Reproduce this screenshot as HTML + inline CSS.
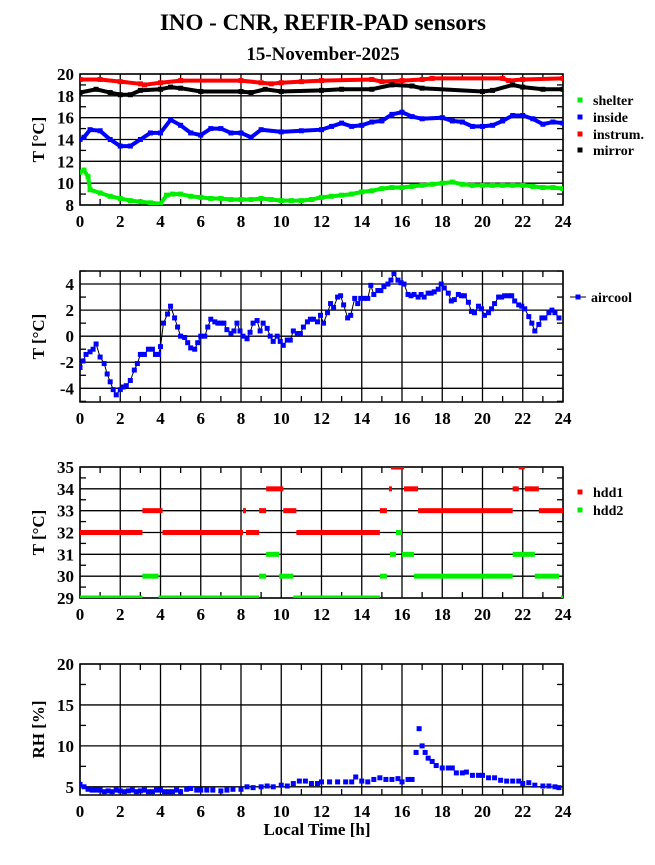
<!DOCTYPE html>
<html><head><meta charset="utf-8"><style>
body{margin:0;background:#fff;}
svg text{font-family:"Liberation Serif",serif;font-weight:bold;fill:#000;}
</style></head><body>
<svg id="c" width="655" height="860" xmlns="http://www.w3.org/2000/svg">
<text x="323" y="30" font-size="23" text-anchor="middle">INO - CNR, REFIR-PAD sensors</text>
<text x="323" y="60" font-size="19" text-anchor="middle">15-November-2025</text>
<text x="317" y="835" font-size="17" text-anchor="middle">Local Time [h]</text>
</svg>
<script>
// ---- data ----
const shelterT=[0,0.2,0.4,0.5,1,1.5,2,2.5,3,3.5,4,4.3,4.6,5,5.5,6,6.5,7,7.5,8,8.5,9,9.5,10,10.5,11,11.5,12,12.5,13,13.5,14,14.5,15,15.5,16,16.5,17,17.5,18,18.5,19,19.5,20,20.5,21,21.5,22,22.5,23,23.5,24];
const shelterV=[11,11.2,10.6,9.4,9.1,8.8,8.6,8.4,8.3,8.2,8.1,8.9,9.0,9.0,8.8,8.7,8.6,8.6,8.5,8.5,8.5,8.6,8.5,8.4,8.4,8.4,8.5,8.7,8.8,8.9,9.0,9.2,9.3,9.5,9.6,9.6,9.7,9.8,9.9,10.0,10.1,9.9,9.8,9.8,9.8,9.8,9.8,9.8,9.7,9.6,9.6,9.5];
const insideT=[0,0.2,0.5,1,1.5,2,2.5,3,3.5,4,4.5,5,5.5,6,6.5,7,7.5,8,8.5,9,10,11,12,12.5,13,13.5,14,14.5,15,15.5,16,16.5,17,18,18.5,19,19.5,20,20.5,21,21.5,22,22.5,23,23.5,24];
const insideV=[14.0,14.2,14.9,14.8,14.0,13.4,13.4,14.0,14.6,14.6,15.8,15.3,14.6,14.4,15.0,15.0,14.6,14.6,14.2,14.9,14.7,14.8,14.9,15.2,15.5,15.2,15.3,15.6,15.7,16.3,16.5,16.1,15.9,16.0,15.7,15.6,15.2,15.2,15.3,15.7,16.2,16.2,15.9,15.4,15.6,15.5];
const instrumT=[0,1,2,3,3.2,4,5,8,9,9.5,10,11,12,14.5,15,16,17,17.5,21,21.3,22,24];
const instrumV=[19.5,19.5,19.3,19.1,19.0,19.2,19.4,19.4,19.2,19.1,19.2,19.3,19.4,19.5,19.3,19.4,19.5,19.6,19.6,19.4,19.5,19.6];
const mirrorT=[0,0.8,1.5,2,2.5,3,4,4.5,5,6,8,8.5,9.2,10,12,13,14.5,15.5,16.5,17,20,20.5,21.5,22,23,24];
const mirrorV=[18.3,18.6,18.3,18.1,18.1,18.5,18.6,18.8,18.7,18.4,18.4,18.3,18.6,18.4,18.5,18.6,18.6,19.0,18.9,18.7,18.4,18.5,19.0,18.8,18.6,18.6];

const airT=[0,0.15,0.3,0.5,0.65,0.8,1.0,1.2,1.35,1.5,1.65,1.8,2.0,2.15,2.3,2.5,2.7,2.85,3.0,3.2,3.4,3.6,3.75,3.9,4.0,4.15,4.35,4.5,4.7,4.85,5.0,5.2,5.35,5.5,5.7,5.85,6.0,6.2,6.35,6.5,6.7,6.85,7.0,7.15,7.3,7.5,7.65,7.8,7.95,8.1,8.3,8.45,8.6,8.8,8.95,9.1,9.3,9.45,9.6,9.8,9.95,10.1,10.3,10.45,10.6,10.8,10.95,11.1,11.3,11.45,11.6,11.8,11.95,12.1,12.3,12.45,12.6,12.8,12.95,13.1,13.3,13.45,13.65,13.8,13.95,14.1,14.3,14.45,14.6,14.8,14.95,15.1,15.3,15.45,15.6,15.8,15.95,16.1,16.3,16.45,16.6,16.8,16.95,17.1,17.3,17.45,17.6,17.8,17.95,18.1,18.3,18.45,18.6,18.8,18.95,19.1,19.3,19.45,19.6,19.8,19.95,20.1,20.3,20.45,20.6,20.8,20.95,21.1,21.3,21.45,21.6,21.8,21.95,22.1,22.3,22.45,22.6,22.8,22.95,23.1,23.3,23.45,23.6,23.8];
const airV=[-2.4,-1.9,-1.4,-1.2,-1.0,-0.6,-1.6,-2.1,-2.9,-3.5,-4.1,-4.5,-4.1,-3.9,-3.8,-3.4,-2.6,-2.1,-1.4,-1.4,-1.0,-1.0,-1.4,-1.4,-0.8,1.0,1.7,2.3,1.4,0.7,0.0,-0.1,-0.5,-0.9,-1.0,-0.5,0.0,0.0,0.7,1.3,1.1,1.0,1.0,1.0,0.5,0.2,0.4,1.0,0.4,0.0,-0.2,0.3,1.0,1.2,0.4,1.0,0.6,0.0,-0.4,0.0,-0.4,-0.7,-0.3,-0.3,0.4,0.2,0.2,0.7,1.1,1.3,1.3,1.1,1.6,1.0,1.8,2.5,2.2,3.0,3.1,2.4,1.4,1.6,2.9,2.5,2.9,2.9,2.9,3.9,3.2,3.5,3.5,3.8,4.0,4.3,4.8,4.3,4.1,4.0,3.2,3.1,3.2,3.0,3.2,3.0,3.3,3.3,3.4,3.6,4.0,3.7,3.3,2.7,2.8,3.2,3.1,3.1,2.6,1.9,1.8,2.3,2.1,1.6,1.8,2.1,2.5,3.0,3.0,3.1,3.1,3.1,2.7,2.4,2.3,2.1,1.5,1.0,0.4,0.9,1.4,1.4,1.8,2.0,1.8,1.4];

const hdd1Start=[0,3.1,4.1,8.1,8.25,8.9,9.25,10.1,10.75,14.9,15.35,15.45,16.1,16.8,21.5,21.8,22.1,22.8];
const hdd1End=[3.1,4.1,8.1,8.25,8.9,9.25,10.1,10.75,14.9,15.25,15.5,16.1,16.8,21.5,21.8,22.1,22.8,24];
const hdd1Val=[32,33,32,33,32,33,34,33,32,33,34,35,34,33,34,35,34,33];
const hdd2Start=[0,3.1,3.9,8.9,9.25,9.9,10.6,14.9,15.4,15.7,16.0,16.6,21.5,22.6,23.9];
const hdd2End=[3.1,3.9,8.9,9.25,9.9,10.6,14.9,15.25,15.7,16.0,16.6,21.5,22.6,23.8,24];
const hdd2Val=[29,30,29,30,31,30,29,30,31,32,31,30,31,30,29];

const rhT=[0,0.2,0.4,0.6,0.8,1,1.2,1.4,1.6,1.8,2,2.2,2.4,2.6,2.8,3,3.2,3.4,3.6,3.8,4,4.2,4.4,4.6,4.8,5,5.3,5.5,5.8,6,6.3,6.6,7,7.3,7.6,8,8.3,8.6,9,9.3,9.6,10,10.3,10.6,10.9,11.2,11.5,11.8,12,12.4,12.8,13.2,13.5,13.7,14,14.3,14.6,14.9,15.2,15.5,15.8,16,16.3,16.5,16.7,16.85,17,17.15,17.3,17.5,17.7,18,18.3,18.5,18.7,19,19.2,19.5,19.8,20,20.3,20.6,20.9,21.2,21.5,21.8,22,22.3,22.6,23,23.3,23.6,23.8];
const rhV=[5.3,5.0,4.7,4.6,4.6,4.6,4.4,4.5,4.4,4.6,4.5,4.4,4.5,4.6,4.4,4.5,4.6,4.4,4.4,4.6,4.6,4.4,4.4,4.4,4.6,4.4,4.7,4.8,4.6,4.6,4.6,4.6,4.5,4.6,4.7,4.7,5.0,4.9,5.0,5.1,5.0,5.2,5.1,5.4,5.7,5.7,5.4,5.4,5.6,5.6,5.6,5.6,5.6,6.2,5.7,5.6,5.9,6.1,5.9,5.9,6.0,5.6,5.9,5.9,9.2,12.1,10.0,9.2,8.5,8.1,7.6,7.3,7.3,7.3,6.7,6.7,6.8,6.4,6.4,6.4,6.1,6.1,5.8,5.7,5.7,5.7,5.4,5.5,5.2,5.1,5.1,5.0,4.9];

const xTicks=[0,2,4,6,8,10,12,14,16,18,20,22,24];
const p1Ticks=[8,10,12,14,16,18,20];
const p2Ticks=[-4,-2,0,2,4];
const p3Ticks=[29,30,31,32,33,34,35];
const p4Ticks=[5,10,15,20];

// ---- drawing ----
const svg=document.getElementById('c');
const NS='http://www.w3.org/2000/svg';
const X0=80,X1=563;
function xs(h){return X0+(h/24)*(X1-X0);}
function mk(tag,attrs,parent){const e=document.createElementNS(NS,tag);for(const k in attrs)e.setAttribute(k,attrs[k]);(parent||svg).appendChild(e);return e;}
let clipId=0;
function panel(name,top,bottom,ymin,ymax,ticks,minorStep,ytitle){
  const ys=v=>bottom-(v-ymin)/(ymax-ymin)*(bottom-top);
  const g=mk('g',{});
  
  
  // grid
  xTicks.forEach(h=>{const l=mk('line',{x1:xs(h),x2:xs(h),y1:top,y2:bottom,stroke:'#000','stroke-width':1.3},g);});
  for(let h=1;h<24;h+=2){mk('line',{x1:xs(h),x2:xs(h),y1:top,y2:top+6,stroke:'#000','stroke-width':1.3},g);mk('line',{x1:xs(h),x2:xs(h),y1:bottom,y2:bottom-6,stroke:'#000','stroke-width':1.3},g);}
  ticks.forEach(v=>{const l=mk('line',{x1:X0,x2:X1,y1:ys(v),y2:ys(v),stroke:'#000','stroke-width':1.3},g);
    const t=mk('text',{x:X0-6,y:ys(v)+6,'font-size':17,'text-anchor':'end'},g);t.textContent=v;});
  for(let v=ticks[0]-minorStep;v<=ymax+1e-9;v+=minorStep){if(v<ymin-1e-9)continue;if(ticks.some(t=>Math.abs(t-v)<1e-6))continue;
    mk('line',{x1:X0,x2:X0+6,y1:ys(v),y2:ys(v),stroke:'#000','stroke-width':1.3},g);mk('line',{x1:X1,x2:X1-6,y1:ys(v),y2:ys(v),stroke:'#000','stroke-width':1.3},g);}
  xTicks.forEach(h=>{const t=mk('text',{x:xs(h),y:bottom+22,'font-size':17,'text-anchor':'middle'},g);t.textContent=h;});
  const fr=mk('rect',{x:X0,y:top,width:X1-X0,height:bottom-top,fill:'none',stroke:'#000','stroke-width':1.5},g);
  
  const yt=mk('text',{x:0,y:0,'font-size':17,'text-anchor':'middle',transform:`translate(44,${(top+bottom)/2}) rotate(-90)`},g);
  yt.textContent=ytitle;
  const cid='cl'+(clipId++);
  const cp=mk('clipPath',{id:cid},g);mk('rect',{x:X0,y:top,width:X1-X0,height:bottom-top},cp);
  const dg=mk('g',{'clip-path':`url(#${cid})`},g);
  return {ys,dg};
}
function series(p,T,V,color,name,line){
  const sg=mk('g',{},p.dg);
  
  
  const pts=T.map((t,i)=>xs(t).toFixed(1)+','+p.ys(V[i]).toFixed(1)).join(' ');
  if(line==='thin') mk('polyline',{points:pts,fill:'none',stroke:'#000','stroke-width':1},sg);
  else if(line) mk('polyline',{points:pts,fill:'none',stroke:color,'stroke-width':4},sg);
  T.forEach((t,i)=>{const r=mk('rect',{x:xs(t)-2.5,y:p.ys(V[i])-2.5,width:5,height:5,fill:color},sg);});
}
function segs(p,S,E,V,color,name){
  const sg=mk('g',{},p.dg);
  
  
  S.forEach((s,i)=>{const r=mk('rect',{x:xs(s),y:p.ys(V[i])-2.5,width:Math.max(3,xs(E[i])-xs(s)),height:5,fill:color},sg);});
}
function legend(x,y,color,label,line){
  const g=mk('g',{});
  
  
  if(line) mk('line',{x1:x-8,x2:x+8,y1:y-4,y2:y-4,stroke:'#000','stroke-width':1},g);
  mk('rect',{x:x-2.5,y:y-6.5,width:5,height:5,fill:color},g);
  const t=mk('text',{x:x+13,y:y+1,'font-size':14},g);t.textContent=label;
}

const p1=panel('panel-temperatures',74,205,8,20,p1Ticks,1,'T [°C]');
series(p1,shelterT,shelterV,'#00ee00','shelter-series',true);
series(p1,insideT,insideV,'#0000ff','inside-series',true);
series(p1,instrumT,instrumV,'#ff0000','instrum-series',true);
series(p1,mirrorT,mirrorV,'#000000','mirror-series',true);
legend(580,104,'#00ee00','shelter');legend(580,121,'#0000ff','inside');legend(580,138,'#ff0000','instrum.');legend(580,154,'#000000','mirror');

const p2=panel('panel-aircool',271,402,-5.05,5,p2Ticks,1,'T [°C]');
series(p2,airT,airV,'#0000ff','aircool-series','thin');
legend(578,301,'#0000ff','aircool',true);

const p3=panel('panel-hdd',467,598,29,35,p3Ticks,0.5,'T [°C]');
segs(p3,hdd1Start,hdd1End,hdd1Val,'#ff0000','hdd1-series');
segs(p3,hdd2Start,hdd2End,hdd2Val,'#00ee00','hdd2-series');
legend(580,496,'#ff0000','hdd1');legend(580,514,'#00ee00','hdd2');

const p4=panel('panel-rh',664,795,4,20,p4Ticks,2.5,'RH [%]');
series(p4,rhT,rhV,'#0000ff','rh-series',false);
</script>
</body></html>
